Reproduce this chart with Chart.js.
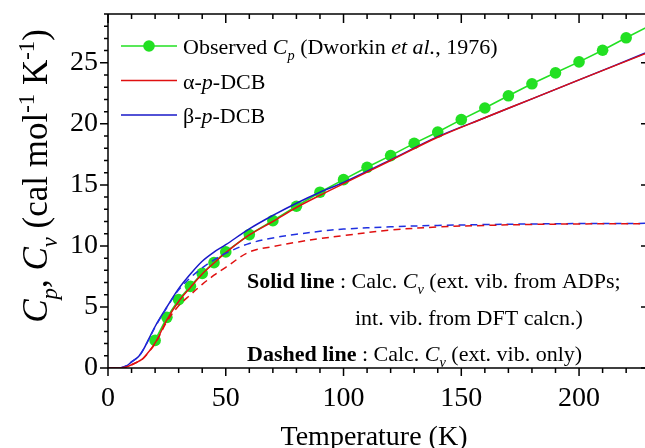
<!DOCTYPE html>
<html>
<head>
<meta charset="utf-8">
<script src="https://cdn.jsdelivr.net/npm/chart.js@4"></script>
<style>
  html, body { margin: 0; padding: 0; background: #fff; }
  canvas { display: block; }
</style>
</head>
<body>
<canvas id="chart" width="645" height="448"></canvas>
<script>
// observed Cp (Dworkin et al., 1976)
let tempObs = [20, 25, 30, 35, 40, 45, 50, 60, 70, 80, 90, 100, 110, 120, 130, 140, 150, 160, 170, 180, 190, 200, 210, 220, 230];
let cpObs = [2.26, 4.15, 5.6, 6.69, 7.75, 8.63, 9.51, 10.93, 12.07, 13.25, 14.4, 15.43, 16.44, 17.4, 18.4, 19.33, 20.35, 21.3, 22.3, 23.28, 24.18, 25.08, 26.03, 27.05, 28.05];

// calculated Cv curves
let tempCalc = [0, 5, 8, 10, 13, 15, 20, 25, 30, 35, 40, 45, 50, 60, 70, 80, 90, 100, 120, 140, 160, 180, 200, 230];
let alphaSolid = [0, 0, 0.1, 0.27, 0.55, 0.8, 2.05, 3.95, 5.45, 6.6, 7.7, 8.6, 9.45, 10.9, 12.0, 13.15, 14.15, 15.1, 17.0, 18.9, 20.5, 22.05, 23.6, 25.9];
let betaSolid = [0, 0, 0.2, 0.5, 0.95, 1.5, 3.4, 5.0, 6.5, 7.7, 8.75, 9.5, 10.1, 11.4, 12.5, 13.5, 14.4, 15.2, 17.05, 18.95, 20.5, 22.05, 23.6, 25.95];
let alphaDashed = [0, 0, 0.1, 0.27, 0.55, 0.8, 2.0, 3.8, 5.1, 6.0, 6.85, 7.6, 8.25, 9.5, 9.95, 10.3, 10.6, 10.85, 11.3, 11.55, 11.68, 11.76, 11.8, 11.83];
let betaDashed = [0, 0, 0.2, 0.5, 0.95, 1.5, 3.35, 4.95, 6.4, 7.4, 8.2, 8.85, 9.4, 10.2, 10.65, 10.95, 11.2, 11.38, 11.57, 11.68, 11.75, 11.8, 11.83, 11.85];

// axis ticks
let xTickVals = [0, 50, 100, 150, 200];
let yTickVals = [0, 5, 10, 15, 20, 25];
let xMinorStep = 10;
let yMinorStep = 1;

const FONT = '"Liberation Serif", "Times New Roman", serif';
const GREEN = "#22e022";
const RED = "#e01010";
const BLUE = "#1818c8";

function toPoints(xs, ys) {
    return xs.map((x, i) => ({ x: x, y: ys[i] }));
}

function segFont(s, size) {
    return (s.i ? "italic " : "") + (s.b ? "bold " : "") + size + "px " + FONT;
}
function segSize(s, size) {
    return s.sub || s.sup ? size * 0.65 : size;
}
function richWidth(ctx, segs, size) {
    let w = 0;
    segs.forEach((s) => {
        ctx.font = segFont(s, segSize(s, size));
        w += ctx.measureText(s.t).width;
    });
    return w;
}
function drawRich(ctx, segs, x, y, size, align) {
    let w = richWidth(ctx, segs, size);
    let cx = align === "center" ? x - w / 2 : align === "right" ? x - w : x;
    ctx.textAlign = "left";
    ctx.textBaseline = "alphabetic";
    segs.forEach((s) => {
        let sz = segSize(s, size);
        ctx.font = segFont(s, sz);
        let dy = s.sub ? size * 0.28 : s.sup ? -size * 0.38 : 0;
        ctx.fillText(s.t, cx, y + dy);
        cx += ctx.measureText(s.t).width;
    });
}

let legendRows = [
    { color: GREEN, marker: true, segs: [{ t: "Observed " }, { t: "C", i: true }, { t: "p", i: true, sub: true }, { t: " (Dworkin " }, { t: "et al.", i: true }, { t: ", 1976)" }] },
    { color: RED, marker: false, segs: [{ t: "\u03b1-" }, { t: "p", i: true }, { t: "-DCB" }] },
    { color: BLUE, marker: false, segs: [{ t: "\u03b2-" }, { t: "p", i: true }, { t: "-DCB" }] },
];

let noteRows = [
    { x: 247, segs: [{ t: "Solid line", b: true }, { t: " : Calc. " }, { t: "C", i: true }, { t: "v", i: true, sub: true }, { t: " (ext. vib. from ADPs;" }] },
    { x: 355, segs: [{ t: "int. vib. from DFT calcn.)" }] },
    { x: 247, segs: [{ t: "Dashed line", b: true }, { t: " : Calc. " }, { t: "C", i: true }, { t: "v", i: true, sub: true }, { t: " (ext. vib. only)" }] },
];

let yTitle = [{ t: "C", i: true }, { t: "p", i: true, sub: true }, { t: ", " }, { t: "C", i: true }, { t: "v", i: true, sub: true }, { t: " (cal mol" }, { t: "-1", sup: true }, { t: " K" }, { t: "-1", sup: true }, { t: ")" }];

const decorations = {
    id: "decorations",
    afterDraw(chart) {
        const ctx = chart.ctx;
        const xs = chart.scales.x;
        const ys = chart.scales.y;
        const a = chart.chartArea;
        ctx.save();
        ctx.strokeStyle = "#000";
        ctx.fillStyle = "#000";
        ctx.lineWidth = 1.5;

        // frame
        ctx.beginPath();
        ctx.moveTo(a.left, a.top);
        ctx.lineTo(a.left, a.bottom);
        ctx.lineTo(a.right, a.bottom);
        ctx.moveTo(a.left, a.top);
        ctx.lineTo(a.right, a.top);
        ctx.stroke();

        // x ticks (bottom outward, top inward)
        ctx.beginPath();
        for (let v = 0; v <= xs.max; v += xMinorStep) {
            let px = xs.getPixelForValue(v);
            let major = xTickVals.includes(v);
            ctx.moveTo(px, a.bottom);
            ctx.lineTo(px, a.bottom + (major ? 8 : 5));
            ctx.moveTo(px, a.top);
            ctx.lineTo(px, a.top + (major ? 9 : 5));
        }
        // y ticks (left outward, right inward near the cropped frame)
        for (let v = 0; v <= ys.max; v += yMinorStep) {
            let py = ys.getPixelForValue(v);
            let major = yTickVals.includes(v);
            ctx.moveTo(a.left, py);
            ctx.lineTo(a.left - (major ? 8 : 4), py);
            if (major) {
                ctx.moveTo(a.right + 4, py);
                ctx.lineTo(a.right - 4, py);
            }
        }
        ctx.stroke();

        // legend
        legendRows.forEach((row, i) => {
            let ly = 46 + i * 34.5;
            ctx.strokeStyle = row.color;
            ctx.lineWidth = 1.6;
            ctx.beginPath();
            ctx.moveTo(121, ly);
            ctx.lineTo(177, ly);
            ctx.stroke();
            if (row.marker) {
                ctx.fillStyle = row.color;
                ctx.beginPath();
                ctx.arc(149, ly, 5.8, 0, Math.PI * 2);
                ctx.fill();
            }
            ctx.fillStyle = "#000";
            drawRich(ctx, row.segs, 183, ly + 8, 22, "left");
        });

        // note text
        ctx.fillStyle = "#000";
        noteRows.forEach((row, i) => {
            drawRich(ctx, row.segs, row.x, 288 + i * 36.5, 22, "left");
        });

        // axis titles
        ctx.font = "28px " + FONT;
        ctx.textAlign = "center";
        ctx.textBaseline = "alphabetic";
        ctx.fillText("Temperature (K)", 374, 445);

        ctx.translate(47, 176);
        ctx.rotate(-Math.PI / 2);
        drawRich(ctx, yTitle, 0, 0, 35, "center");
        ctx.restore();
    },
};

const datasets = [
    { data: toPoints(tempCalc, alphaDashed), borderColor: RED, borderWidth: 1.5, borderDash: [7, 5], pointRadius: 0, tension: 0.35 },
    { data: toPoints(tempCalc, betaDashed), borderColor: "#2030e0", borderWidth: 1.5, borderDash: [7, 5], pointRadius: 0, tension: 0.35 },
    { data: toPoints(tempCalc, alphaSolid), borderColor: RED, borderWidth: 1.5, pointRadius: 0, tension: 0.35 },
    { data: toPoints(tempCalc, betaSolid), borderColor: BLUE, borderWidth: 1.5, pointRadius: 0, tension: 0.35 },
    {
        data: toPoints(tempObs, cpObs),
        borderColor: GREEN,
        backgroundColor: GREEN,
        borderWidth: 1.6,
        pointRadius: tempObs.map((t) => (t > 220 ? 0 : 5.8)),
        pointBorderWidth: 0,
        tension: 0,
    },
];

new Chart(document.getElementById("chart"), {
    type: "line",
    data: { datasets: datasets },
    plugins: [decorations],
    options: {
        responsive: false,
        animation: false,
        devicePixelRatio: 1,
        layout: { autoPadding: false, padding: { top: 14, right: 0, left: 0, bottom: 0 } },
        plugins: { legend: { display: false }, tooltip: { enabled: false } },
        scales: {
            x: {
                type: "linear",
                min: 0,
                max: 228,
                grid: { display: false, drawTicks: false },
                border: { display: false },
                afterBuildTicks: (scale) => {
                    scale.ticks = xTickVals.map((v) => ({ value: v }));
                },
                afterFit: (scale) => {
                    scale.height = 80;
                    scale.paddingLeft = 0;
                    scale.paddingRight = 0;
                },
                ticks: { color: "#000", font: { family: FONT, size: 28 }, padding: 14, maxRotation: 0 },
            },
            y: {
                type: "linear",
                min: 0,
                max: 29,
                grid: { display: false, drawTicks: false },
                border: { display: false },
                afterBuildTicks: (scale) => {
                    scale.ticks = yTickVals.map((v) => ({ value: v }));
                },
                afterFit: (scale) => {
                    scale.width = 108;
                    scale.paddingTop = 0;
                    scale.paddingBottom = 0;
                },
                ticks: { color: "#000", font: { family: FONT, size: 28 }, padding: 10 },
            },
        },
    },
});
</script>
</body>
</html>
